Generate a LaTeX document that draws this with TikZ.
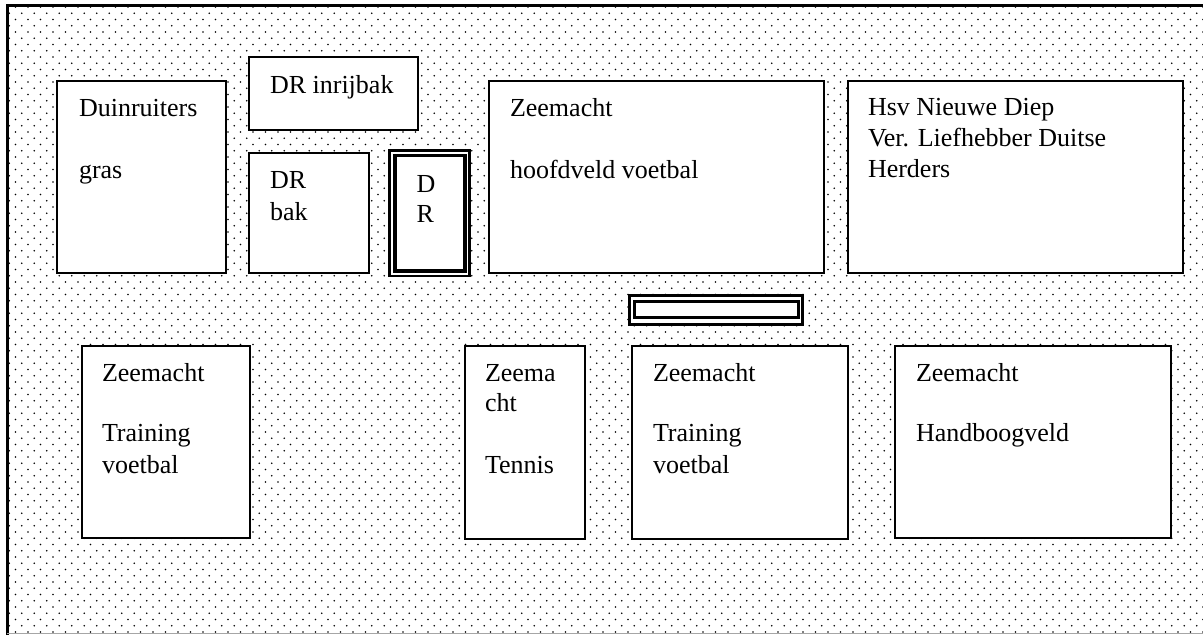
\documentclass[tikz,border=0pt]{standalone}
\usepackage{fontspec}
\setmainfont{Liberation Serif}
\usetikzlibrary{patterns}
\pgfdeclarepatternformonly{sitedots}{\pgfqpoint{-1pt}{-1pt}}{\pgfqpoint{13.5pt}{13.5pt}}{\pgfqpoint{12.5pt}{12.5pt}}{%
  \pgfpathcircle{\pgfqpoint{3pt}{3pt}}{0.85pt}%
  \pgfpathcircle{\pgfqpoint{9.25pt}{9.25pt}}{0.85pt}%
  \pgfusepath{fill}}
\tikzset{
  field/.style={draw=black, fill=white, line width=2pt, rectangle, inner sep=0pt, outer sep=0pt},
  lbl/.style={anchor=base west, inner sep=0pt, outer sep=0pt, font=\fontsize{26}{31}\selectfont, text=black},
}
\begin{document}
\begin{tikzpicture}[x=1pt, y=-1pt]
\useasboundingbox (0,0) rectangle (1203,635);
\fill[white] (0,0) rectangle (1203,635);
\fill[pattern=sitedots, pattern color=black] (7,5) rectangle (1203,635);
\draw[line width=3pt] (7,635) -- (7,5) -- (1203,5);
\draw[line width=1pt, black!35] (7,633.5) -- (1203,633.5);

% top row
\node[field, minimum width=169, minimum height=192] (duin) at (141.5,177) {};
\node[lbl] (duin1) at (79,116) {Duinruiters};
\node[lbl] (duin2) at (79,178) {gras};

\node[field, minimum width=169, minimum height=73] (inrij) at (333.5,93.5) {};
\node[lbl] (inrij1) at (270,93) {DR inrijbak};

\node[field, minimum width=120, minimum height=120] (drbak) at (309,213) {};
\node[lbl] (drbak1) at (270,188) {DR};
\node[lbl] (drbak2) at (270,220) {bak};

\node[field, line width=2.5pt, minimum width=80, minimum height=125.5] (drout) at (429.5,213.25) {};
\node[field, line width=3.5pt, minimum width=70, minimum height=115.5] (drin) at (430,213.25) {};
\node[lbl] (dr1) at (416.5,192) {D};
\node[lbl] (dr2) at (416.5,222) {R};

\node[field, minimum width=335, minimum height=192] (hoofd) at (656.5,177) {};
\node[lbl] (hoofd1) at (510,116) {Zeemacht};
\node[lbl] (hoofd2) at (510,178) {hoofdveld voetbal};

\node[field, minimum width=335, minimum height=192] (hsv) at (1015.5,177) {};
\node[lbl] (hsv1) at (868,115) {Hsv Nieuwe Diep};
\node[lbl] (hsv2) at (868,146) {Ver. Liefhebber Duitse};
\node[lbl] (hsv3) at (868,177) {Herders};

% bar
\node[field, line width=2.5pt, minimum width=173, minimum height=29] (barout) at (716,310) {};
\node[field, line width=3pt, minimum width=164, minimum height=16] (barin) at (716,309.5) {};

% bottom row
\node[field, minimum width=168, minimum height=192] (ztl) at (166,442) {};
\node[lbl] (ztl1) at (102,381) {Zeemacht};
\node[lbl] (ztl2) at (102,441) {Training};
\node[lbl] (ztl3) at (102,473) {voetbal};

\node[field, minimum width=120, minimum height=193] (ten) at (525,442.5) {};
\node[lbl] (ten1) at (485,381) {Zeema};
\node[lbl] (ten2) at (485,411) {cht};
\node[lbl] (ten3) at (485,473) {Tennis};

\node[field, minimum width=216, minimum height=193] (ztr) at (740,442.5) {};
\node[lbl] (ztr1) at (653,381) {Zeemacht};
\node[lbl] (ztr2) at (653,441) {Training};
\node[lbl] (ztr3) at (653,473) {voetbal};

\node[field, minimum width=276, minimum height=192] (hand) at (1033,442) {};
\node[lbl] (hand1) at (916,381) {Zeemacht};
\node[lbl] (hand2) at (916,441) {Handboogveld};
\end{tikzpicture}
\end{document}
